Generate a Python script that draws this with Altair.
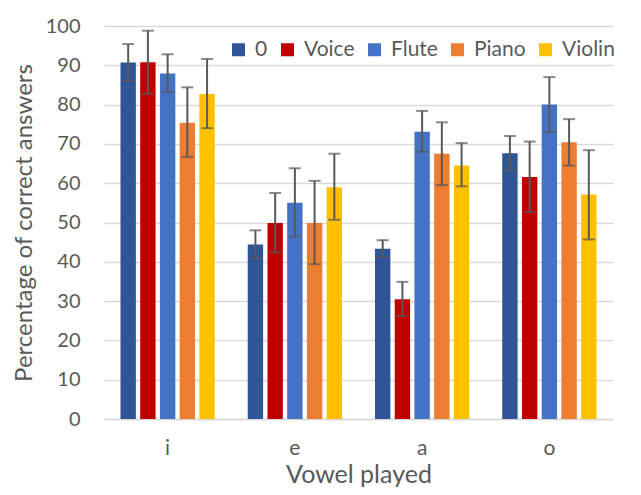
import altair as alt
import pandas as pd

vowels = ["i", "e", "a", "o"]
series = ["0", "Voice", "Flute", "Piano", "Violin"]
colors = ["#2F5597", "#C00000", "#4472C4", "#ED7D31", "#FFC000"]
y_ticks = [0, 10, 20, 30, 40, 50, 60, 70, 80, 90, 100]

# values per series, in vowel order i, e, a, o
values = {
    "0":      [90.7, 44.4, 43.3, 67.6],
    "Voice":  [90.8, 49.9, 30.5, 61.6],
    "Flute":  [87.9, 55.0, 73.1, 80.0],
    "Piano":  [75.4, 49.9, 67.5, 70.4],
    "Violin": [82.7, 59.0, 64.5, 57.1],
}
err_high = {
    "0":      [95.4, 48.0, 45.5, 72.0],
    "Voice":  [98.8, 57.5, 34.9, 70.6],
    "Flute":  [92.8, 63.8, 78.4, 87.0],
    "Piano":  [84.4, 60.6, 75.5, 76.3],
    "Violin": [91.6, 67.5, 70.2, 68.4],
}
err_low = {
    "0":      [86.0, 40.8, 41.2, 63.3],
    "Voice":  [82.8, 42.4, 26.2, 52.7],
    "Flute":  [83.2, 46.4, 68.0, 73.0],
    "Piano":  [66.7, 39.4, 59.5, 64.5],
    "Violin": [74.0, 50.7, 59.2, 45.7],
}

rows = []
for s in series:
    for i, v in enumerate(vowels):
        rows.append({"vowel": v, "series": s, "value": values[s][i],
                     "hi": err_high[s][i], "lo": err_low[s][i]})
df = pd.DataFrame(rows)

FONT = "Lato"
GREY = "#595959"
YTITLE = "Percentage of correct answers"

x = alt.X("vowel:N", sort=vowels, title="Vowel played",
          scale=alt.Scale(paddingInner=0.225, paddingOuter=0.1125),
          axis=alt.Axis(labelAngle=0, labelFontSize=21, labelPadding=18, titleFontSize=25,
                        titlePadding=4, ticks=False, domainColor="#D9D9D9", domainWidth=1.5,
                        labelColor=GREY, titleColor=GREY, labelFont=FONT, titleFont=FONT,
                        titleFontWeight="normal"))
xo = alt.XOffset("series:N", sort=series,
                 scale=alt.Scale(paddingInner=0.22, paddingOuter=0.11))
yscale = alt.Scale(domain=[0, 100], nice=False)
yaxis = alt.Axis(values=y_ticks, labelFontSize=20, titleFontSize=24,
                 labelPadding=24, titlePadding=9, ticks=False, domain=False,
                 labelOverlap=False,
                 gridColor="#D9D9D9", gridWidth=1.3, labelColor=GREY, titleColor=GREY,
                 labelFont=FONT, titleFont=FONT, titleFontWeight="normal")

base = alt.Chart(df)

bars = base.mark_bar().encode(
    x=x, xOffset=xo,
    y=alt.Y("value:Q", title=YTITLE, scale=yscale, axis=yaxis),
    color=alt.Color("series:N", sort=series,
                    scale=alt.Scale(domain=series, range=colors),
                    legend=alt.Legend(title=None, orient="none", direction="horizontal",
                                      legendX=124, legendY=13, symbolType="square",
                                      symbolSize=169, symbolStrokeWidth=0, labelFontSize=21,
                                      labelFont=FONT, labelColor=GREY, labelOffset=6,
                                      columnPadding=9, padding=0)),
)

rules = base.mark_rule(color=GREY, strokeWidth=2).encode(
    x=x, xOffset=xo, y=alt.Y("lo:Q", title=YTITLE, scale=yscale, axis=yaxis), y2="hi:Q")
caps_hi = base.mark_tick(color=GREY, thickness=2, size=12, orient="horizontal").encode(
    x=x, xOffset=xo, y=alt.Y("hi:Q", title=YTITLE, scale=yscale, axis=yaxis))
caps_lo = base.mark_tick(color=GREY, thickness=2, size=12, orient="horizontal").encode(
    x=x, xOffset=xo, y=alt.Y("lo:Q", title=YTITLE, scale=yscale, axis=yaxis))

chart = alt.layer(bars, rules, caps_hi, caps_lo).properties(
    width=509, height=393,
    autosize=alt.AutoSizeParams(type="none"),
    padding={"left": 96, "top": 18, "right": 20, "bottom": 68},
).configure_view(stroke=None)

chart.save("out.html", embed_options={"renderer": "svg", "actions": False})
